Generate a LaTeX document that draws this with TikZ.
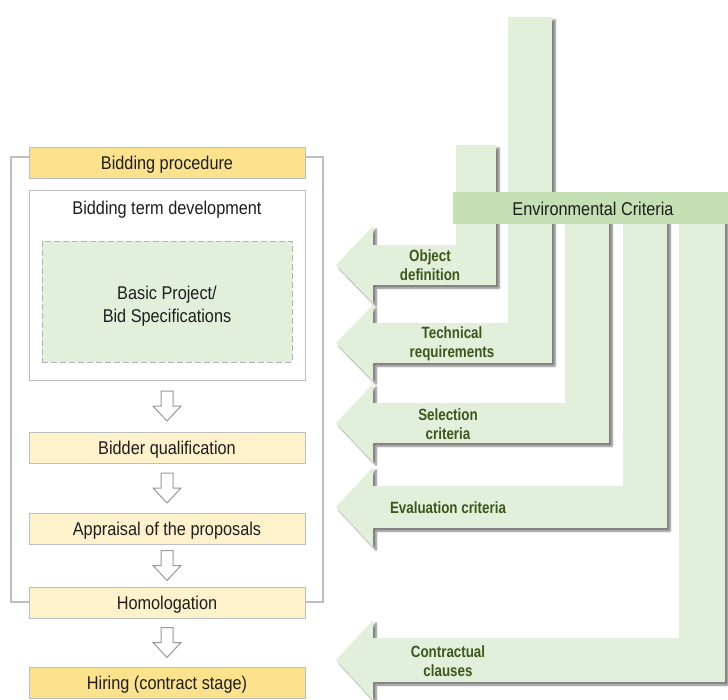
\documentclass[tikz,border=0pt]{standalone}
\usepackage{fontspec}
\setmainfont{Liberation Sans}[FakeStretch=0.88]
\newfontfamily\arrfont{Liberation Sans}[FakeStretch=0.82]
\usetikzlibrary{shadows.blur,calc}
\definecolor{gold}{RGB}{253,226,142}
\definecolor{pale}{RGB}{254,242,204}
\definecolor{boxgray}{RGB}{190,190,190}
\definecolor{lgreen}{RGB}{226,239,218}
\definecolor{mgreen}{RGB}{197,224,180}
\definecolor{dgreen}{RGB}{58,88,28}
\definecolor{txt}{RGB}{30,30,30}
\begin{document}
\begin{tikzpicture}[x=1pt,y=-1pt,
  mainfont/.style={font=\fontsize{18.5}{23}\selectfont, text=txt},
  stagebox/.style={draw=boxgray, line width=1pt, minimum width=276pt, minimum height=31pt, inner sep=0pt, text height=15pt, text depth=1pt, mainfont},
  frameline/.style={draw=boxgray, line width=1.5pt},
  hollow/.style={draw=black!40, fill=white, line width=1pt, line join=miter},
  greenarrow/.style={fill=lgreen, blur shadow={shadow xshift=3pt, shadow yshift=-3pt, shadow opacity=55, shadow blur radius=2pt, shadow blur steps=6}},
  arrtext/.style={font=\arrfont\bfseries\fontsize{16.3}{19.5}\selectfont, text=dgreen, align=center, inner sep=0pt}
]
\useasboundingbox (0,0) rectangle (728,699);

% ---------- left column ----------
\draw[frameline] (11,157) rectangle (323,602);
\node[stagebox, fill=gold] (bp) at (167,162.5) {Bidding procedure};
\node[draw=boxgray, line width=1pt, fill=white, minimum width=276pt, minimum height=190pt, inner sep=0pt] (btd) at (167,285) {};
\node[mainfont, inner sep=0pt] (btdt) at (167,209.5) {Bidding term development};
\node[draw=black!30, dash pattern=on 6pt off 3pt, line width=1pt, fill=lgreen, minimum width=250pt, minimum height=121pt, inner sep=0pt] (spec) at (167,301.5) {};
\node[mainfont, align=center, inner sep=0pt] (spect) at (167,306) {Basic Project/\\Bid Specifications};
\node[stagebox, fill=pale] (bq) at (167,447.5) {Bidder qualification};
\node[stagebox, fill=pale] (ap) at (167,528.5) {Appraisal of the proposals};
\node[stagebox, fill=pale] (hom) at (167,602.5) {Homologation};
\node[stagebox, fill=gold] (hire) at (167,682.5) {Hiring (contract stage)};

\foreach \a/\b in {btd/bq, bq/ap, ap/hom, hom/hire}
  \draw[hollow] ($(\a.south)!0.5!(\b.north)$) ++(-6,-15) -- ++(12,0) -- ++(0,15) -- ++(8,0) -- ++(-14,15) -- ++(-14,-15) -- ++(8,0) -- cycle;

% ---------- right side: green arrows ----------
\path[greenarrow] (679,215) -- (725,215) -- (725,682) -- (373,682) -- (373,700) -- (336,660) -- (373,620) -- (373,638) -- (679,638) -- cycle;
\path[greenarrow] (623,215) -- (667,215) -- (667,528) -- (373,528) -- (373,547) -- (336,507) -- (373,467) -- (373,486) -- (623,486) -- cycle;
\path[greenarrow] (565,215) -- (609,215) -- (609,443) -- (373,443) -- (373,462) -- (336,423) -- (373,384) -- (373,403) -- (565,403) -- cycle;
\path[greenarrow] (508,17) -- (552,17) -- (552,363) -- (373,363) -- (373,381) -- (336,343) -- (373,305) -- (373,323) -- (508,323) -- cycle;
\path[greenarrow] (456,145) -- (496,145) -- (496,285) -- (373,285) -- (373,303) -- (336,265) -- (373,226) -- (373,245) -- (456,245) -- cycle;

\node[fill=mgreen, minimum width=276pt, minimum height=32pt, inner sep=0pt, text height=15pt, text depth=1pt, mainfont] (env) at (590.5,208) {\hspace*{5pt}Environmental Criteria};

\node[arrtext] (tobj) at (430,265) {Object\\definition};
\node[arrtext] (ttech) at (452,344) {Technical\\requirements};
\node[arrtext] (tsel) at (448,424) {Selection\\criteria};
\node[arrtext] (teval) at (448,508) {Evaluation criteria};
\node[arrtext] (tcont) at (448,661) {Contractual\\clauses};
\end{tikzpicture}
\end{document}
